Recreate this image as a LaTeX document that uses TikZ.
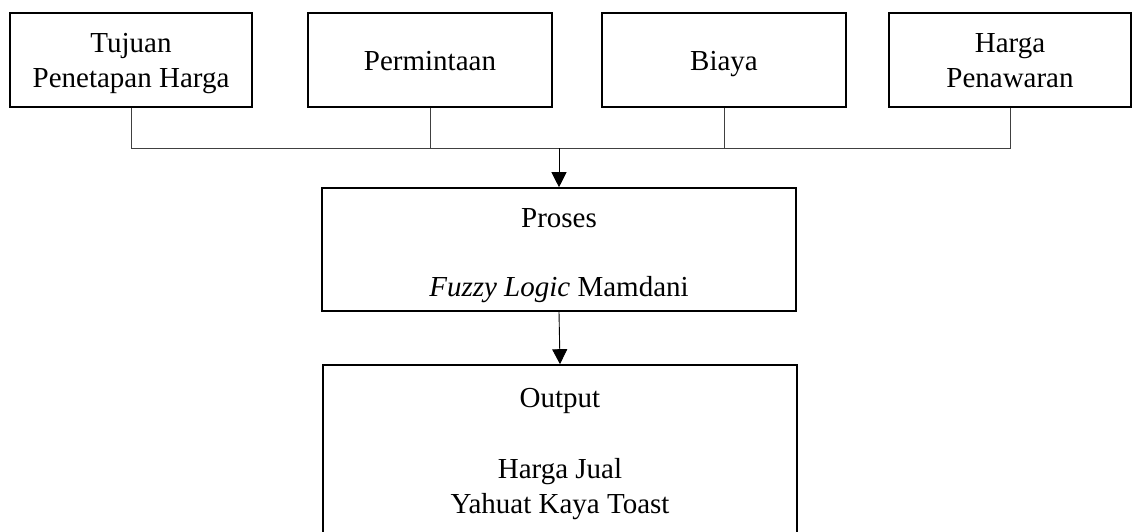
\documentclass[tikz,border=0pt]{standalone}
\usepackage{fontspec}
\setmainfont{Liberation Serif}
\usetikzlibrary{arrows.meta}
\newcommand\tstrut{\rule[-7.5pt]{0pt}{35pt}}
\newcommand\pstrut{\rule{0pt}{33pt}}
\begin{document}
\begin{tikzpicture}[x=1pt,y=-1pt,
  box/.style={draw=black, line width=1.6pt, align=center, inner sep=0pt,
    font=\fontsize{29}{35}\selectfont},
  topbox/.style={box, minimum height=94pt},
  conn/.style={line width=0.9pt, draw=black!75},
  arr/.style={line width=0.9pt, draw=black, -{Triangle[width=15pt,length=15pt]}}]
\clip (0,0) rectangle (1133,531);
\fill[white] (0,0) rectangle (1133,531);
\node[topbox, minimum width=242pt] (tujuan) at (131,60) {\tstrut Tujuan\\Penetapan Harga\tstrut};
\node[topbox, minimum width=244pt] (permintaan) at (430,60) {\tstrut Permintaan};
\node[topbox, minimum width=244pt] (biaya) at (724,60) {\tstrut Biaya};
\node[topbox, minimum width=242pt] (harga) at (1010,60) {\tstrut Harga\\Penawaran\tstrut};
\node[box, minimum width=474pt, minimum height=123pt] (proses) at (559,249.5)
  {\pstrut Proses\\[34pt]\textit{Fuzzy Logic} Mamdani\tstrut};
\node[box, minimum width=474pt, minimum height=170pt] (output) at (560,450)
  {\tstrut Output\\[36pt]Harga Jual\\Yahuat Kaya Toast\tstrut};
\coordinate (j) at (559,148);
\draw[conn] (tujuan.south) -- (tujuan.south |- j) -- (harga.south |- j) -- (harga.south);
\draw[conn] (permintaan.south) -- (permintaan.south |- j);
\draw[conn] (biaya.south) -- (biaya.south |- j);
\draw[arr] (j) -- (proses.north);
\draw[arr] (proses.south) -- (output.north);
\end{tikzpicture}
\end{document}
